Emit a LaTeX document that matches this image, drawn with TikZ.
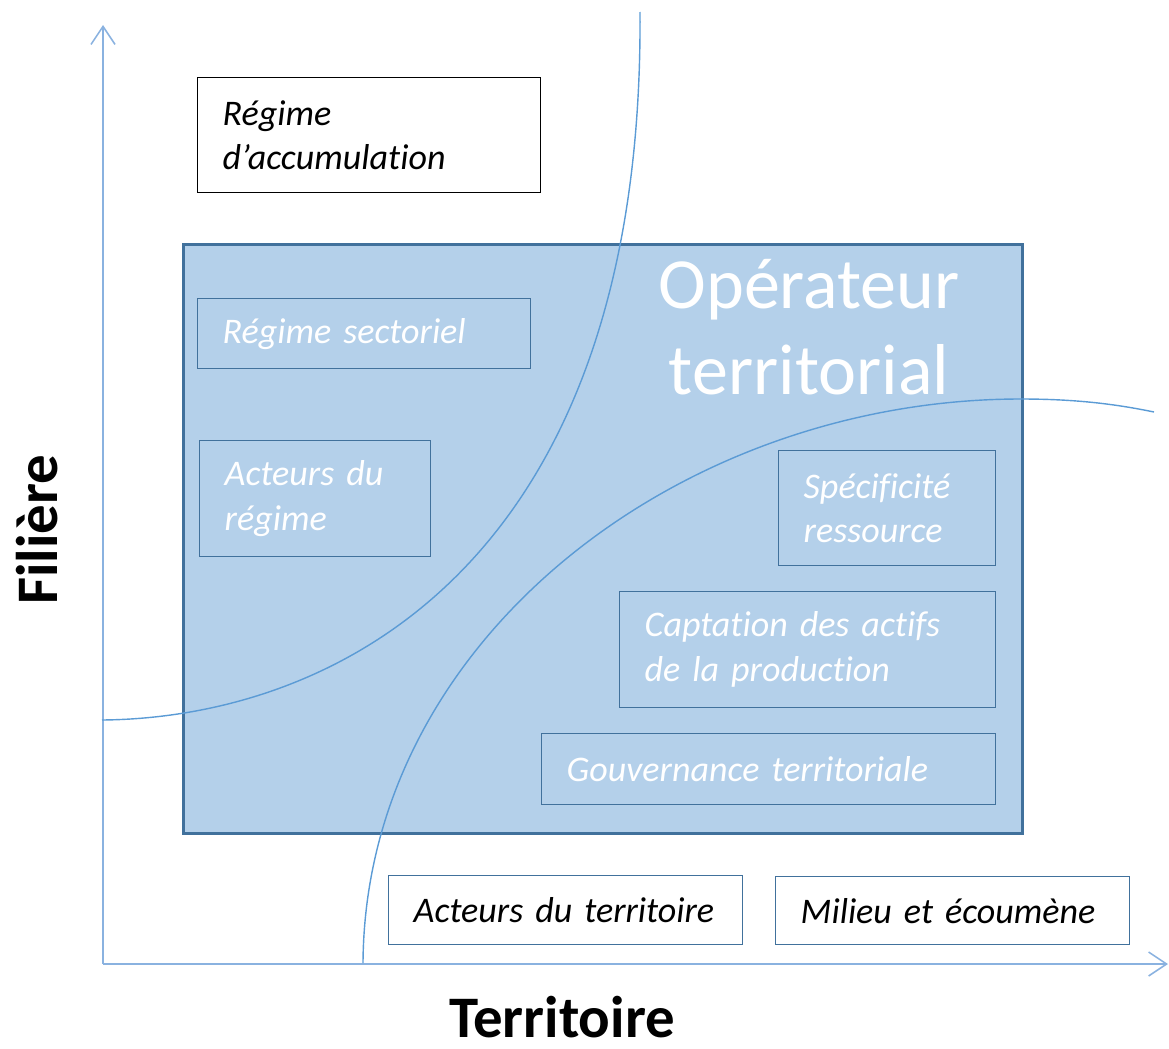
\documentclass[tikz,border=0pt]{standalone}
\usepackage{fontspec}
\setmainfont{Carlito}[Ligatures=NoCommon]
\usepackage{xcolor}
\usepackage{tikz}
\usetikzlibrary{arrows.meta,positioning}
\definecolor{opblue}{HTML}{B4D0EA}
\definecolor{opedge}{HTML}{41719C}
\definecolor{axisblue}{HTML}{8AB2E0}
\definecolor{zoneblue}{HTML}{5B9BD5}
\tikzset{
tagbox/.style={
	draw=opedge,
	line width=0.8pt,
	anchor=north west,
	align=left,
	inner xsep=0.5cm,
	inner ysep=0pt,
	font=\fontsize{20.5}{25.5}\selectfont\itshape
},
axisline/.style={-{Straight Barb[length=3.6mm,width=4.8mm]}, line width=0.9pt, draw=axisblue},
zoneline/.style={line width=0.8pt, draw=zoneblue},
axislabel/.style={font=\fontsize{33.5}{40}\selectfont\bfseries, text=black}
}

\begin{document}
\begin{tikzpicture}[x=0.02cm,y=-0.02cm]
% one unit = one pixel of the sketch, y grows downwards
\useasboundingbox (0,0) rectangle (1169,1048);

% ── Axes ────────────────────────────────────────────────────────
\coordinate (origin) at (103,964);
\coordinate (ytip) at (103,25);
\coordinate (xtip) at (1168,964);
\draw[axisline] (origin) -- (ytip);
\draw[axisline] (origin) -- (xtip);
\node[axislabel, rotate=90] (filiere) at (37,530) {Filière};
\node[axislabel] (territoire) at (562,1017) {Territoire};

% ── Operator block ──────────────────────────────────────────────
\node[draw=opedge, fill=opblue, line width=1.7pt, inner sep=0pt,
 minimum width=16.78cm, minimum height=11.78cm, anchor=north west]
 (opbox) at (182,243) {};

% ── Zone boundaries ─────────────────────────────────────────────
\coordinate (c1top) at (640,12);
\coordinate (c1left) at (102,720);
\draw[zoneline] (c1top) .. controls (644,570) and (330,718) .. (c1left);

\coordinate (c2foot) at (363,963);
\coordinate (c2peak) at (1021,399);
\coordinate (c2end) at (1154,412);
\draw[zoneline] (c2foot) .. controls (365,640) and (680,399) .. (c2peak)
 .. controls (1080,399) and (1120,405) .. (c2end);

\node[font=\fontsize{41}{49}\selectfont, text=white, align=center]
 (optitle) at (809,327) {Opérateur\\territorial};

% ── Filière side ────────────────────────────────────────────────
\node[tagbox, draw=black, text width=5.86cm, minimum height=2.30cm]
 (regacc) at (197,77) {Régime\\d’accumulation};
\node[tagbox, text=white, text width=5.66cm, minimum height=1.40cm]
 (regsect) at (197,298) {Régime sectoriel};
\node[tagbox, text=white, text width=3.62cm, minimum height=2.32cm]
 (actreg) at (199,440) {Acteurs du\\régime};

% ── Territoire side ─────────────────────────────────────────────
\node[tagbox, text=white, text width=3.34cm, minimum height=2.30cm]
 (specres) at (778,450) {Spécificité\\ressource};
\node[tagbox, text=white, text width=6.52cm, minimum height=2.32cm]
 (captact) at (619,591) {Captation des actifs\\de la production};
\node[tagbox, text=white, text width=8.08cm, minimum height=1.42cm]
 (gouvter) at (541,733) {Gouvernance territoriale};
\node[tagbox, text width=6.08cm, minimum height=1.38cm]
 (actterr) at (388,875) {Acteurs du territoire};
\node[tagbox, text width=6.08cm, minimum height=1.36cm]
 (milieu) at (775,876) {Milieu et écoumène};
\end{tikzpicture}
\end{document}
